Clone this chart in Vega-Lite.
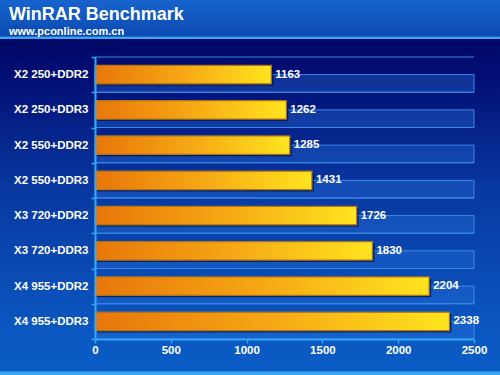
{
  "$schema": "https://vega.github.io/schema/vega-lite/v6.json",
  "width": 500,
  "height": 375,
  "autosize": {"type": "none"},
  "padding": 0,
  "background": "#0a2f95",
  "title": {
    "text": "WinRAR Benchmark",
    "subtitle": "www.pconline.com.cn",
    "anchor": "start",
    "frame": "group",
    "orient": "top",
    "offset": -43,
    "dx": 9,
    "font": "Liberation Sans",
    "fontSize": 18,
    "fontWeight": "bold",
    "color": "#ffffff",
    "subtitleFont": "Liberation Sans",
    "subtitleFontSize": 11,
    "subtitleFontWeight": "bold",
    "subtitleColor": "#ffffff",
    "subtitlePadding": 2
  },
  "data": {
    "values": [
      {"name": "X2 250+DDR2", "score": 1163},
      {"name": "X2 250+DDR3", "score": 1262},
      {"name": "X2 550+DDR2", "score": 1285},
      {"name": "X2 550+DDR3", "score": 1431},
      {"name": "X3 720+DDR2", "score": 1726},
      {"name": "X3 720+DDR3", "score": 1830},
      {"name": "X4 955+DDR2", "score": 2204},
      {"name": "X4 955+DDR3", "score": 2338}
    ]
  },
  "layer": [
    {
      "data": {"values": [{}]},
      "mark": {
        "type": "rect",
        "fill": {
          "gradient": "linear",
          "x1": 0, "y1": 0, "x2": 0, "y2": 1,
          "stops": [
            {"offset": 0, "color": "#1664cc"},
            {"offset": 0.097, "color": "#0c4ab2"},
            {"offset": 0.098, "color": "#3aa6f2"},
            {"offset": 0.104, "color": "#3aa6f2"},
            {"offset": 0.105, "color": "#000866"},
            {"offset": 0.2, "color": "#020e74"},
            {"offset": 0.5, "color": "#0838a0"},
            {"offset": 0.9, "color": "#0b58c2"},
            {"offset": 0.99, "color": "#0b5cc6"},
            {"offset": 0.991, "color": "#3aa6f2"},
            {"offset": 1, "color": "#3aa6f2"}
          ]
        }
      },
      "encoding": {}
    },
    {
      "mark": {"type": "bar", "fill": "#2c74de", "fillOpacity": 0.35, "stroke": "#3a88e6", "strokeWidth": 1, "height": {"band": 0.5}, "yOffset": 8.8},
      "encoding": {
        "y": {"field": "name", "type": "nominal"},
        "x": {"datum": 0},
        "x2": {"datum": 2500}
      }
    },
    {
      "mark": {"type": "rule", "color": "#3a88e6", "strokeWidth": 1},
      "encoding": {
        "y": {"field": "name", "type": "nominal", "bandPosition": 0},
        "x": {"datum": 0},
        "x2": {"datum": 2500}
      }
    },
    {
      "mark": {"type": "bar", "fill": "#00103c", "opacity": 0.7, "xOffset": 2, "yOffset": 2, "height": {"band": 0.52}},
      "encoding": {
        "y": {"field": "name", "type": "nominal"},
        "x": {"field": "score", "type": "quantitative"}
      }
    },
    {
      "mark": {
        "type": "bar",
        "height": {"band": 0.52},
        "stroke": "#b07414",
        "strokeWidth": 1.2,
        "fill": {
          "gradient": "linear",
          "x1": 0, "y1": 0, "x2": 1, "y2": 0,
          "stops": [
            {"offset": 0, "color": "#e8760a"},
            {"offset": 0.5, "color": "#f6a814"},
            {"offset": 1, "color": "#ffe41e"}
          ]
        }
      },
      "encoding": {
        "y": {
          "field": "name", "type": "nominal", "title": null,
          "sort": null,
          "scale": {"range": [57, 339], "paddingInner": 0, "paddingOuter": 0},
          "axis": {
            "orient": "left",
            "offset": -95,
            "zindex": 1,
            "domainColor": "#35a6f5",
            "domainWidth": 2,
            "tickColor": "#35a6f5",
            "tickBand": "extent",
            "tickSize": 4,
            "tickWidth": 1.5,
            "labelPadding": 3,
            "labelFont": "Liberation Sans",
            "labelFontSize": 11.5,
            "labelFontWeight": "bold",
            "labelColor": "#ffffff",
            "grid": false
          }
        },
        "x": {
          "field": "score", "type": "quantitative", "title": null,
          "scale": {"domain": [0, 2500], "range": [95, 474], "nice": false},
          "axis": {
            "orient": "bottom",
            "offset": -36,
            "zindex": 1,
            "format": "d",
            "values": [0, 500, 1000, 1500, 2000, 2500],
            "domainColor": "#35a6f5",
            "domainWidth": 2,
            "tickColor": "#35a6f5",
            "tickSize": 4,
            "tickWidth": 1.5,
            "labelPadding": 1,
            "labelFont": "Liberation Sans",
            "labelFontSize": 11.5,
            "labelFontWeight": "bold",
            "labelColor": "#ffffff",
            "labelFlush": false,
            "grid": false
          }
        }
      }
    },
    {
      "mark": {"type": "text", "align": "left", "baseline": "middle", "dx": 4, "font": "Liberation Sans", "fontSize": 11.5, "fontWeight": "bold", "color": "#ffffff"},
      "encoding": {
        "y": {"field": "name", "type": "nominal"},
        "x": {"field": "score", "type": "quantitative"},
        "text": {"field": "score", "type": "quantitative"}
      }
    }
  ],
  "config": {"view": {"stroke": null}}
}
